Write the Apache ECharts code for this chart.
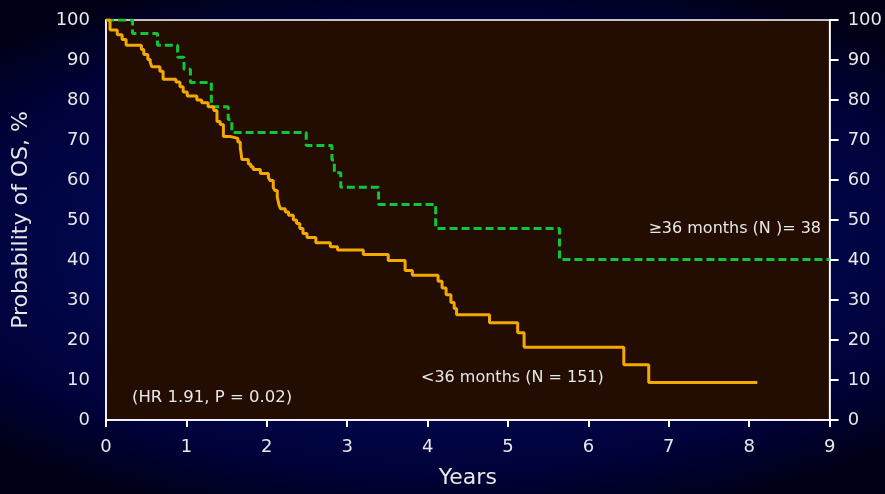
<!DOCTYPE html>
<html>
<head>
<meta charset="utf-8">
<script src="https://cdn.jsdelivr.net/npm/echarts@6/dist/echarts.min.js"></script>
<style>
  html, body { margin: 0; padding: 0; background: #000018; }
  #chart {
    width: 885px; height: 494px;
    background: radial-gradient(ellipse 72% 58% at 50% 50%, #000c64 0%, #000852 45%, #00023a 78%, #000016 100%);
  }
</style>
</head>
<body>
<div id="chart"></div>
<script>
// Kaplan-Meier overall survival, years vs. % surviving
const yearTicks = [0, 1, 2, 3, 4, 5, 6, 7, 8, 9];
const pctTicks = [0, 10, 20, 30, 40, 50, 60, 70, 80, 90, 100];

// <36 months group (N = 151)
const shortYears = [0, 0.05, 0.14, 0.2, 0.25, 0.44, 0.47, 0.52, 0.55, 0.57, 0.67, 0.71, 0.87, 0.92, 0.96, 1.01,
  1.13, 1.19, 1.27, 1.34, 1.38, 1.42, 1.46, 1.54, 1.64, 1.67, 1.68, 1.69, 1.77, 1.8, 1.83, 1.92,
  2.02, 2.04, 2.08, 2.1, 2.13, 2.15, 2.17, 2.23, 2.27, 2.33, 2.37, 2.41, 2.45, 2.5, 2.61, 2.79, 2.88,
  3.2, 3.51, 3.72, 3.81, 4.13, 4.18, 4.23, 4.29, 4.33, 4.36, 4.77, 5.12, 5.2, 6.44, 6.75, 8.1];
const shortSurv = [100, 97.5, 96.3, 95.1, 93.7, 92.6, 91.4, 90.1, 89.4, 88.3, 87.2, 85.2, 84.5, 83.3, 82.0, 81.0,
  80.0, 79.3, 78.3, 77.4, 74.6, 73.9, 70.9, 70.4, 69.5, 68.0, 66.7, 65.1, 64.0, 63.3, 62.6, 61.6,
  60.6, 59.9, 58.1, 57.4, 55.7, 53.9, 52.8, 52.0, 51.2, 50.0, 49.1, 47.9, 46.6, 45.6, 44.3, 43.3, 42.5,
  41.4, 39.9, 37.4, 36.2, 34.7, 33.0, 31.3, 29.4, 27.9, 26.3, 24.3, 21.8, 18.2, 13.8, 9.4, 9.4];

// >=36 months group (N = 38)
const longYears = [0, 0.33, 0.64, 0.89, 0.97, 1.05, 1.31, 1.52, 1.565, 2.49, 2.81, 2.84, 2.92, 3.39, 4.1, 5.64, 9];
const longSurv = [100, 96.6, 93.7, 90.7, 87.7, 84.4, 78.3, 75.1, 71.9, 68.6, 65.0, 61.8, 58.2, 53.9, 47.9, 40.1, 40.1];

const shortLabel = '<36 months (N = 151)';
const longLabel = '\u226536 months (N )= 38';
const statsLabel = '(HR 1.91, P = 0.02)';

const pair = (xs, ys) => xs.map((x, i) => [x, ys[i]]);

const FONT = 'DejaVu Sans, Verdana, sans-serif';
const TXT = '#e8e8e8';

const chart = echarts.init(document.getElementById('chart'));

const yAxisBase = {
  type: 'value', min: pctTicks[0], max: pctTicks[pctTicks.length - 1], interval: 10,
  splitLine: { show: false },
  axisLine: { show: true, lineStyle: { color: '#ffffff', width: 1.5 } }
};

chart.setOption({
  backgroundColor: 'transparent',
  animation: false,
  grid: {
    left: 106, right: 55, top: 20, bottom: 69,
    show: true, backgroundColor: '#230c02', borderColor: '#ffffff', borderWidth: 1.5
  },
  xAxis: {
    type: 'value', min: yearTicks[0], max: yearTicks[yearTicks.length - 1], interval: 1,
    name: 'Years', nameLocation: 'middle', nameGap: 47,
    nameTextStyle: { color: TXT, fontSize: 22, fontFamily: FONT },
    splitLine: { show: false },
    axisLine: { show: true, lineStyle: { color: '#ffffff', width: 1.5 } },
    axisTick: { show: true, length: 7, lineStyle: { color: '#ffffff', width: 2 } },
    axisLabel: { color: TXT, fontSize: 18, fontFamily: FONT, margin: 18 }
  },
  yAxis: [
    Object.assign({}, yAxisBase, {
      position: 'left',
      name: 'Probability of OS, %', nameLocation: 'middle', nameGap: 74, nameRotate: 90,
      nameTextStyle: { color: TXT, fontSize: 22, fontFamily: FONT },
      axisTick: { show: false },
      axisLabel: { color: TXT, fontSize: 18, fontFamily: FONT, margin: 16, padding: [3, 0, 0, 0] }
    }),
    Object.assign({}, yAxisBase, {
      position: 'right',
      axisTick: { show: true, length: 9, lineStyle: { color: '#ffffff', width: 2 } },
      axisLabel: { color: TXT, fontSize: 18, fontFamily: FONT, margin: 18, padding: [3, 0, 0, 0] }
    })
  ],
  series: [
    {
      type: 'line', step: 'end', symbol: 'none', data: pair(shortYears, shortSurv),
      lineStyle: { color: '#f2a900', width: 3 }, z: 3
    },
    {
      type: 'line', step: 'end', symbol: 'none', data: pair(longYears, longSurv),
      lineStyle: { color: '#10c636', width: 3, type: [8, 4] }, z: 2
    }
  ],
  graphic: [
    { type: 'text', right: 64, top: 221, style: { text: longLabel, fill: TXT, font: '16px ' + FONT } },
    { type: 'text', left: 421, top: 370, style: { text: shortLabel, fill: TXT, font: '16px ' + FONT } },
    { type: 'text', left: 132, top: 389, style: { text: statsLabel, fill: TXT, font: '16.5px ' + FONT } }
  ]
});
</script>
</body>
</html>
